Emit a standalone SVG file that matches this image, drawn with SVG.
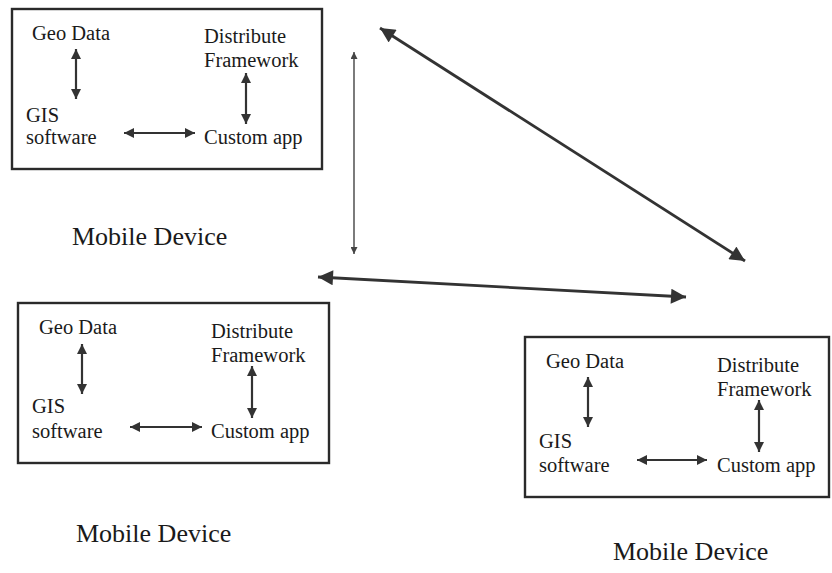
<svg xmlns="http://www.w3.org/2000/svg" width="832" height="573" viewBox="0 0 832 573">
<style>
.box{fill:none;stroke:#2a2a2a;stroke-width:2.4}
.t{font-family:"Liberation Serif","Times New Roman",serif;font-size:20.5px;fill:#1a1a1a}
.lbl{font-family:"Liberation Serif","Times New Roman",serif;font-size:26px;fill:#1a1a1a}
.inner{stroke:#333;stroke-width:2.2;fill:none;marker-start:url(#hm);marker-end:url(#hm)}
.thin{stroke:#444;stroke-width:1.4;fill:none;marker-start:url(#hs);marker-end:url(#hs)}
.big{stroke:#333;stroke-width:2.8;fill:none;marker-start:url(#hb);marker-end:url(#hb)}
</style>
<defs>
<marker id="hm" viewBox="0 0 10 10" refX="10" refY="5" markerWidth="10" markerHeight="11" markerUnits="userSpaceOnUse" orient="auto-start-reverse"><path d="M0,0 L10,5 L0,10 z" fill="#333"/></marker>
<marker id="hs" viewBox="0 0 10 10" refX="10" refY="5" markerWidth="7" markerHeight="7" markerUnits="userSpaceOnUse" orient="auto-start-reverse"><path d="M0,0 L10,5 L0,10 z" fill="#444"/></marker>
<marker id="hb" viewBox="0 0 10 10" refX="10" refY="5" markerWidth="16" markerHeight="15" markerUnits="userSpaceOnUse" orient="auto-start-reverse"><path d="M0,0 L10,5 L0,10 z" fill="#333"/></marker>
</defs>
<g id="device1">
<rect class="box" x="12" y="9" width="310" height="160"/>
<text class="t" x="32" y="40">Geo Data</text>
<text class="t" x="204" y="43">Distribute</text>
<text class="t" x="204" y="67">Framework</text>
<text class="t" x="26" y="122">GIS</text>
<text class="t" x="26" y="144">software</text>
<text class="t" x="204" y="144">Custom app</text>
<line class="inner" x1="76" y1="49" x2="76" y2="99"/>
<line class="inner" x1="246" y1="73" x2="246" y2="124"/>
<line class="inner" x1="124" y1="133" x2="195" y2="133"/>
<text class="lbl" x="72" y="245">Mobile Device</text>
</g>
<g id="device2">
<rect class="box" x="18" y="303" width="311" height="160"/>
<text class="t" x="39" y="334">Geo Data</text>
<text class="t" x="211" y="338">Distribute</text>
<text class="t" x="211" y="362">Framework</text>
<text class="t" x="32" y="413">GIS</text>
<text class="t" x="32" y="438">software</text>
<text class="t" x="211" y="438">Custom app</text>
<line class="inner" x1="82" y1="344" x2="82" y2="394"/>
<line class="inner" x1="252" y1="366" x2="252" y2="418"/>
<line class="inner" x1="130" y1="427" x2="202" y2="427"/>
<text class="lbl" x="76" y="542">Mobile Device</text>
</g>
<g id="device3">
<rect class="box" x="525" y="337" width="304" height="160"/>
<text class="t" x="546" y="368">Geo Data</text>
<text class="t" x="717" y="372">Distribute</text>
<text class="t" x="717" y="396">Framework</text>
<text class="t" x="539" y="448">GIS</text>
<text class="t" x="539" y="472">software</text>
<text class="t" x="717" y="472">Custom app</text>
<line class="inner" x1="588" y1="377" x2="588" y2="427"/>
<line class="inner" x1="759" y1="400" x2="759" y2="452"/>
<line class="inner" x1="637" y1="460" x2="707" y2="460"/>
<text class="lbl" x="613" y="560">Mobile Device</text>
</g>
<g id="connectors">
<line class="thin" x1="354" y1="52" x2="354" y2="254"/>
<line class="big" x1="380" y1="28" x2="745" y2="261"/>
<line class="big" x1="318" y1="277" x2="686" y2="297"/>
</g>
</svg>
